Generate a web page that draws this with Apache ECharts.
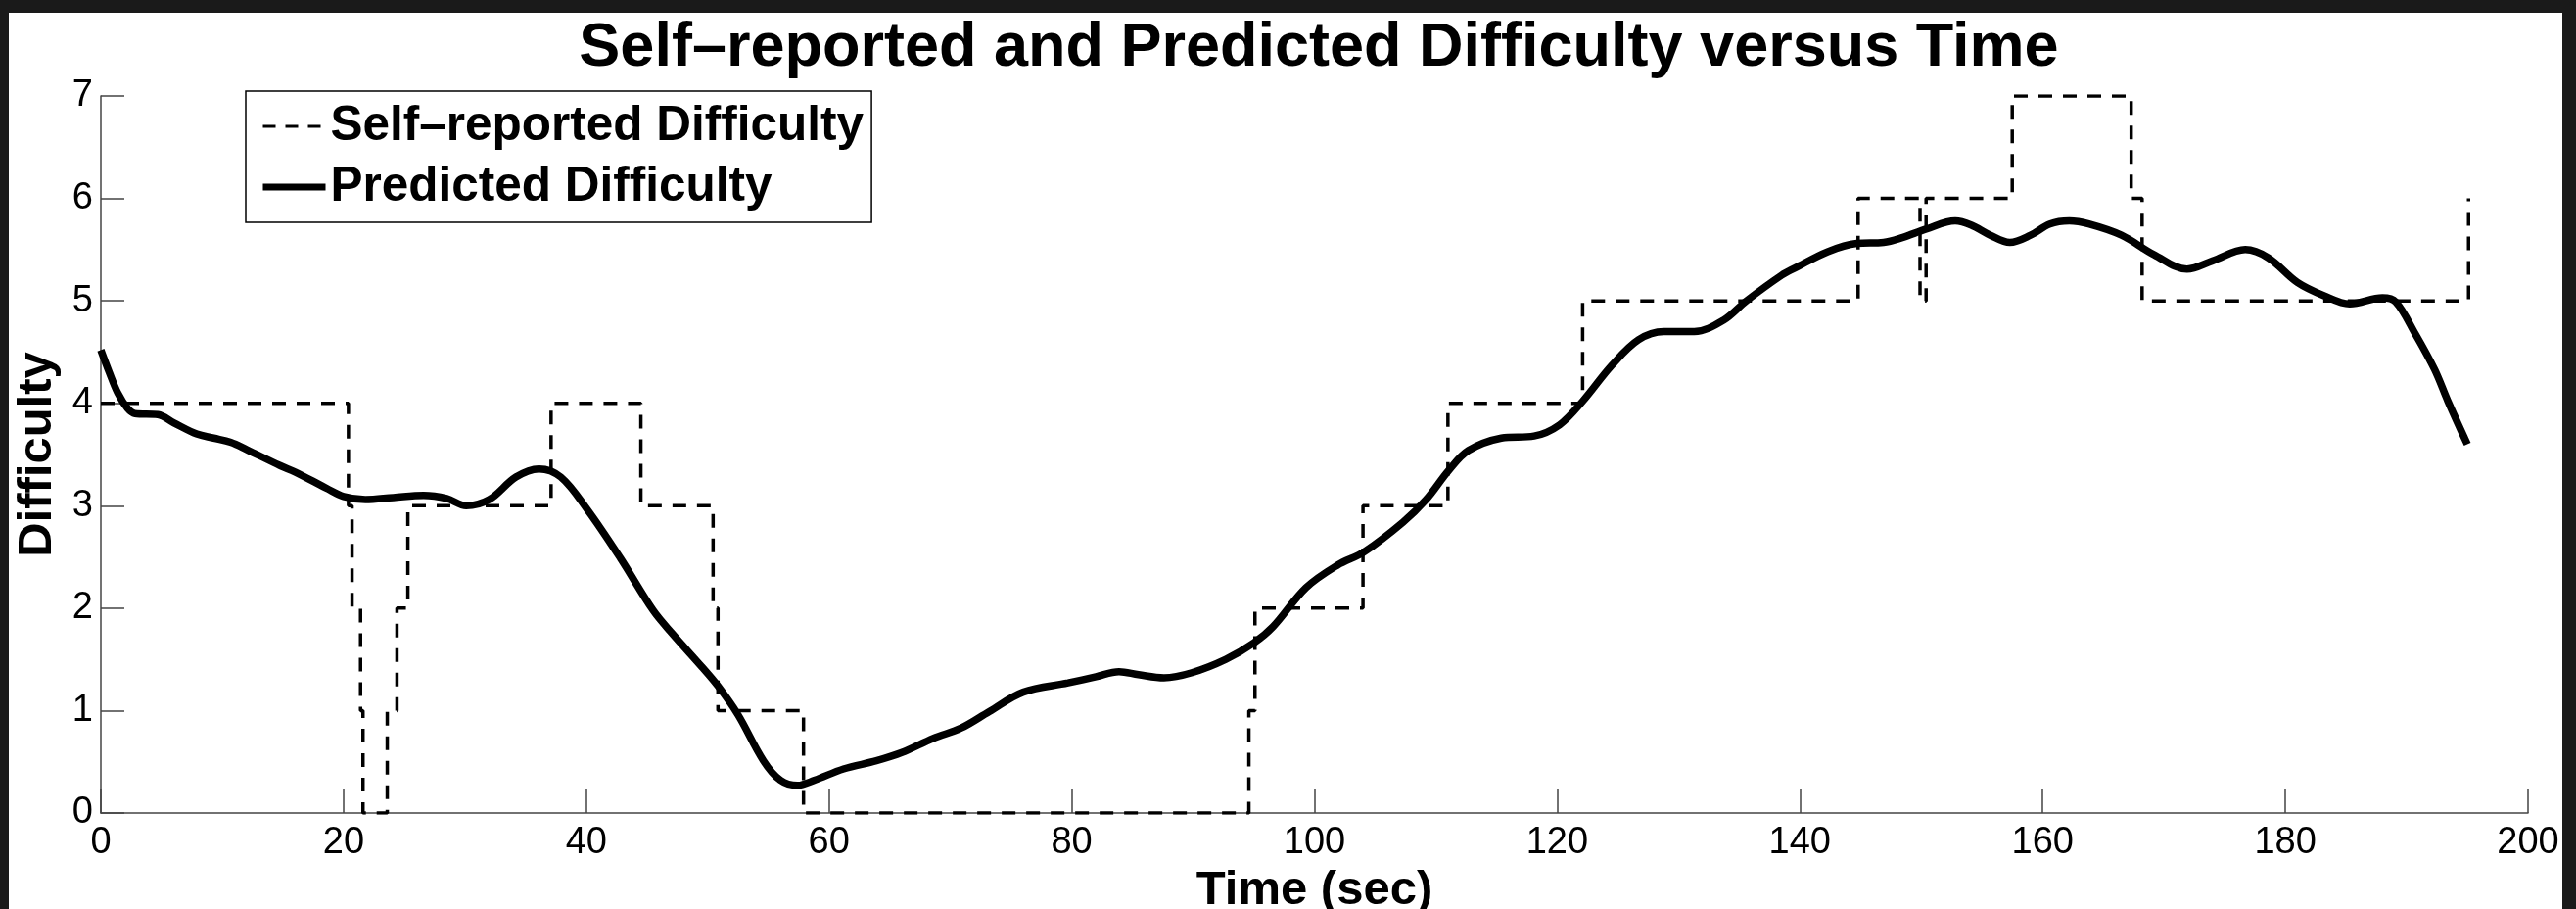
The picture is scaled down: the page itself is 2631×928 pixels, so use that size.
<!DOCTYPE html>
<html>
<head>
<meta charset="utf-8">
<script src="https://cdn.jsdelivr.net/npm/echarts@6/dist/echarts.min.js"></script>
<style>
html,body{margin:0;padding:0;background:#1a1a1a;}
#chart{width:2631px;height:928px;}
</style>
</head>
<body>
<div id="chart"></div>
<script>
// ---- data ----
const chartTitle = 'Self–reported and Predicted Difficulty versus Time';
const xAxisName = 'Time (sec)';
const yAxisName = 'Difficulty';
const seriesNames = ['Self–reported Difficulty', 'Predicted Difficulty'];

// self-reported (step changes: value holds until next time)
const selfTimes  = [0, 20.4, 20.7, 21.4, 21.6, 23.6, 24.4, 25.3, 37.1, 44.5, 50.45, 50.85, 57.9, 94.6, 95.1, 104.0, 111.0, 122.1, 144.8, 149.9, 150.4, 157.5, 167.3, 168.2, 195.1];
const selfValues = [4,    3,    2,    1,    0,    1,    2,    3,    4,    3,     2,     1,    0,    1,    2,     3,     4,     5,     6,     5,     6,     7,     6,     5,     6];

// predicted (smooth curve)
const predTimes  = [0, 0.7, 1.4, 2.2, 2.8, 4.7, 6.0, 7.9, 9.3, 10.7, 12.0, 14.8, 16.0, 18.6, 20.0, 21.8, 24.1, 26.6, 28.5, 30.1, 32.0, 34.2, 36.1, 37.9, 40.1, 42.8, 45.5, 47.1, 49.5, 50.85, 52.5, 54.6, 56.0, 57.4, 58.8, 61.2, 63.9, 66.0, 68.6, 70.9, 73.2, 76.0, 79.7, 82.0, 83.9, 85.5, 87.6, 89.9, 92.7, 95.0, 96.6, 99.3, 101.9, 104.1, 107.3, 109.2, 111.1, 112.7, 115.4, 118.1, 120.2, 122.1, 124.5, 126.7, 128.8, 131.3, 133.7, 135.6, 138.5, 139.6, 142.3, 144.7, 146.9, 148.5, 150.4, 152.8, 154.1, 155.7, 157.3, 159.0, 160.6, 162.2, 163.8, 166.5, 169.2, 171.9, 174.0, 176.7, 178.6, 181.0, 183.2, 185.3, 188.0, 189.1, 190.7, 192.3, 193.4, 195.0];
const predValues = [4.52, 4.3, 4.1, 3.95, 3.9, 3.89, 3.81, 3.70, 3.66, 3.62, 3.55, 3.39, 3.33, 3.17, 3.09, 3.06, 3.08, 3.10, 3.07, 3.00, 3.06, 3.28, 3.36, 3.28, 2.96, 2.49, 1.98, 1.75, 1.43, 1.24, 0.96, 0.51, 0.32, 0.27, 0.32, 0.43, 0.51, 0.59, 0.73, 0.83, 0.99, 1.18, 1.27, 1.33, 1.38, 1.35, 1.32, 1.37, 1.50, 1.66, 1.82, 2.20, 2.42, 2.55, 2.84, 3.06, 3.35, 3.54, 3.66, 3.68, 3.79, 4.02, 4.37, 4.62, 4.70, 4.70, 4.81, 5.00, 5.25, 5.32, 5.48, 5.56, 5.57, 5.62, 5.70, 5.78, 5.74, 5.64, 5.57, 5.64, 5.75, 5.78, 5.75, 5.64, 5.45, 5.31, 5.39, 5.50, 5.42, 5.18, 5.05, 4.97, 5.03, 4.99, 4.68, 4.33, 4.02, 3.60];

const xMin = 0, xMax = 200, xStep = 20;
const yMin = 0, yMax = 7, yStep = 1;

// ---- chart ----
const selfData = selfTimes.map((t, i) => [t, selfValues[i]]);
const predData = predTimes.map((t, i) => [t, predValues[i]]);

const font = 'Liberation Sans, Arial, Helvetica, sans-serif';
const axisGray = '#444';
const noMarker = {color: 'rgba(0,0,0,0)', borderWidth: 0, borderColor: 'rgba(0,0,0,0)'};

const chart = echarts.init(document.getElementById('chart'), null, {renderer: 'canvas'});
chart.setOption({
  animation: false,
  backgroundColor: '#1a1a1a',
  graphic: [{
    type: 'rect', z: -10, silent: true,
    shape: {x: 9, y: 13, width: 2608, height: 915},
    style: {fill: '#ffffff'}
  }],
  title: {
    text: chartTitle,
    left: 1342, top: 13, textAlign: 'center',
    textStyle: {fontFamily: font, fontSize: 63, fontWeight: 'bold', color: '#000'}
  },
  legend: {
    orient: 'vertical',
    left: 251, top: 93,
    padding: [11, 8, 11, 14],
    itemGap: 12,
    itemWidth: 64, itemHeight: 20,
    borderColor: '#000', borderWidth: 1.5,
    backgroundColor: '#fff',
    textStyle: {fontFamily: font, fontSize: 49.5, fontWeight: 'bold', color: '#000', lineHeight: 50},
    data: [
      {name: seriesNames[0], itemStyle: noMarker, lineStyle: {type: [13, 10], width: 3, color: '#000'}},
      {name: seriesNames[1], itemStyle: noMarker, lineStyle: {width: 7, color: '#000'}}
    ]
  },
  grid: {left: 103, top: 98, width: 2479, height: 732, containLabel: false, outerBoundsMode: 'none'},
  xAxis: {
    type: 'value', min: xMin, max: xMax, interval: xStep,
    name: xAxisName, nameLocation: 'middle', nameGap: 44,
    nameTextStyle: {fontFamily: font, fontSize: 49, fontWeight: 'bold', color: '#000'},
    axisLine: {show: true, onZero: false, lineStyle: {color: axisGray, width: 1.5}},
    axisTick: {show: true, inside: true, length: 24, lineStyle: {color: axisGray, width: 1.5}},
    axisLabel: {fontFamily: font, fontSize: 38, color: '#000', margin: 12},
    splitLine: {show: false}
  },
  yAxis: {
    type: 'value', min: yMin, max: yMax, interval: yStep,
    name: yAxisName, nameLocation: 'middle', nameGap: 38, nameRotate: 90,
    nameTextStyle: {fontFamily: font, fontSize: 49, fontWeight: 'bold', color: '#000'},
    axisLine: {show: true, onZero: false, lineStyle: {color: axisGray, width: 1.5}},
    axisTick: {show: true, inside: true, length: 24, lineStyle: {color: axisGray, width: 1.5}},
    axisLabel: {fontFamily: font, fontSize: 38, color: '#000', margin: 8},
    splitLine: {show: false}
  },
  series: [
    {
      name: seriesNames[0], type: 'line', step: 'end', data: selfData,
      symbol: 'none', showSymbol: false,
      lineStyle: {color: '#000', width: 3.5, type: [14, 11]},
      itemStyle: {color: '#000'},
      z: 2
    },
    {
      name: seriesNames[1], type: 'line', smooth: 0.35, data: predData,
      symbol: 'none', showSymbol: false,
      lineStyle: {color: '#000', width: 7.5},
      itemStyle: {color: '#000'},
      z: 3
    }
  ]
});
</script>
</body>
</html>
